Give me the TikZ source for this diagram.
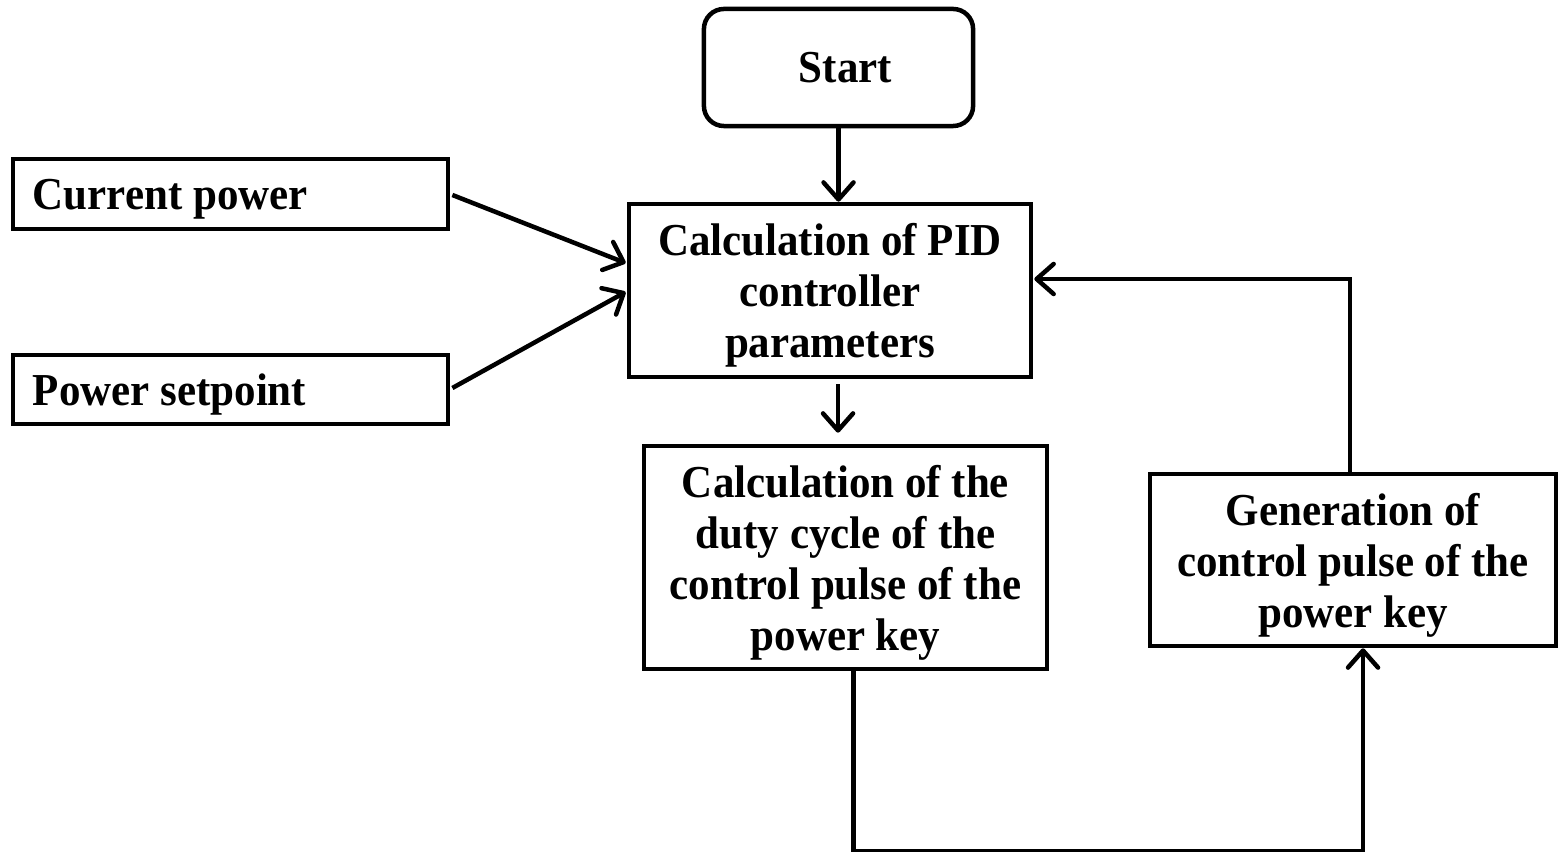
\documentclass[tikz,border=0pt]{standalone}
\usepackage{fontspec}
\setmainfont{Liberation Serif}[FakeStretch=0.94]
\usetikzlibrary{arrows.meta,calc}
\tikzset{
  box/.style={draw=black, line width=0.045cm, inner sep=0pt, align=center, text depth=0pt,
    font=\fontsize{13pt}{14.5pt}\selectfont\bfseries},
  inbox/.style={box, align=flush left, text width=3.95cm, inner xsep=0.2cm},
  arr/.style={draw=black, line width=0.045cm,
    -{Straight Barb[length=0.17cm, width=0.3cm, line width=0.045cm, line cap=round, line join=round]}}
}
\begin{document}
\begin{tikzpicture}[x=0.01cm, y=-0.01cm]
\useasboundingbox (0,0) rectangle (1558,852);
\node[box, rounded corners=0.2cm, minimum width=2.69cm, minimum height=1.17cm] (start) at (838.5,67.5) {\hspace{0.14cm}Start};
\node[inbox, minimum width=4.35cm, minimum height=0.70cm] (cp) at (230.5,194) {Current power};
\node[inbox, minimum width=4.35cm, minimum height=0.69cm] (ps) at (230.5,389.5) {Power setpoint};
\node[box, minimum width=4.02cm, minimum height=1.73cm] (pid) at (830,290.5) {Calculation of PID\\controller\\parameters};
\node[box, minimum width=4.03cm, minimum height=2.23cm] (duty) at (845.5,557.5) {Calculation of the\\duty cycle of the\\control pulse of the\\power key};
\node[box, minimum width=4.06cm, minimum height=1.72cm] (gen) at (1353,560) {Generation of\\control pulse of the\\power key};

\draw[arr] (start.south) -- (start.south |- pid.north);
\draw[arr] ($(cp.east)+(2,1)$) -- ($(pid.west)+(-1,-27.5)$);
\draw[arr] ($(ps.east)+(2,-1.5)$) -- ($(pid.west)+(-1,1.5)$);
\draw[arr] ($(pid.south)+(8,5)$) -- ($(duty.north)+(-7.5,-11)$);
\draw[arr] ($(duty.south)+(8,0)$) -- ++(0,180) -| ($(gen.south)+(10,0)$);
\draw[arr] ($(gen.north)+(-3,0)$) |- ($(pid.east)+(1,-11.5)$);
\end{tikzpicture}
\end{document}
